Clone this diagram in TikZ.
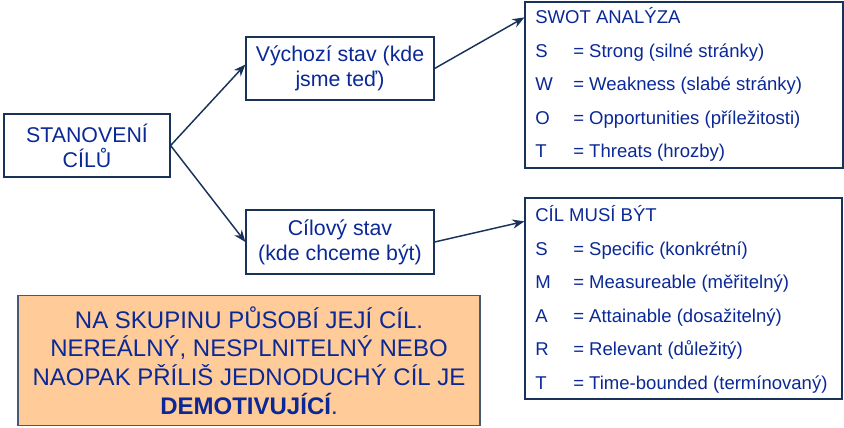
\documentclass[tikz,border=0pt]{standalone}
\usepackage{fontspec}
\setmainfont{Liberation Sans}
\usetikzlibrary{arrows.meta, positioning}
\definecolor{txtblue}{RGB}{10,40,150}
\definecolor{linenavy}{RGB}{25,50,90}
\definecolor{peach}{RGB}{255,204,153}
\definecolor{peachline}{RGB}{70,90,120}

\begin{document}
\begin{tikzpicture}[x=0.75pt, y=-0.75pt, >={Stealth[length=9pt, width=7pt]},
    box/.style={draw=linenavy, line width=0.9pt, align=center, text=txtblue, inner sep=0pt,
      font=\fontsize{16}{18.75}\selectfont},
    listbox/.style={draw=linenavy, line width=0.9pt, inner sep=0pt},
    item/.style={anchor=base west, text=txtblue, inner sep=0pt, font=\fontsize{13.9}{16}\selectfont},
    link/.style={->, draw=linenavy, line width=1.1pt}]
      \useasboundingbox (0,0) rectangle (844,428);
      \node[box, minimum width=124.5pt, minimum height=47.25pt] (goal) at (87,145.5) {STANOVENÍ\\CÍLŮ};
      \node[box, minimum width=141pt, minimum height=47.25pt] (now) at (340,68.5) {Výchozí stav (kde\\jsme teď)};
      \node[box, minimum width=141pt, minimum height=48pt] (target) at (340,242) {Cílový stav\\(kde chceme být)};
      \node[listbox, minimum width=238.5pt, minimum height=124.5pt] (swot) at (684,85) {};
      \node[listbox, minimum width=237.75pt, minimum height=150.75pt] (smart) at (683.5,298.5) {};
      \node[box, fill=peach, draw=peachline, minimum width=346.5pt, minimum height=97.5pt,
        font=\fontsize{18}{21.6}\selectfont] (note) at (249,360.5)
        {NA SKUPINU PŮSOBÍ JEJÍ CÍL.\\NEREÁLNÝ, NESPLNITELNÝ NEBO\\NAOPAK PŘÍLIŠ JEDNODUCHÝ CÍL JE\\\textbf{DEMOTIVUJÍCÍ}.};

      % SWOT
      \node[item] (swothead) at (535,24) {SWOT ANALÝZA};
      \foreach \ltr/\txt [count=\i] in {S/Strong (silné stránky), W/Weakness (slabé stránky),
          O/Opportunities (příležitosti), T/Threats (hrozby)} {
        \node[item] (swotl\i) at (535,{24+33.5*\i}) {\ltr};
        \node[item] (swott\i) at (573,{24+33.5*\i}) {= \txt};
      }

      % SMART
      \node[item] (smarthead) at (535,222) {CÍL MUSÍ BÝT};
      \foreach \ltr/\txt [count=\i] in {S/Specific (konkrétní), M/Measureable (měřitelný),
          A/Attainable (dosažitelný), R/Relevant (důležitý), T/Time-bounded (termínovaný)} {
        \node[item] (smartl\i) at (535,{222+33.4*\i}) {\ltr};
        \node[item] (smartt\i) at (573,{222+33.4*\i}) {= \txt};
      }

      \draw[link] (goal.east) -- ([yshift=3pt]now.west);
      \draw[link] (goal.east) -- (target.west);
      \draw[link] (now.east) -- ([yshift=-12pt]swot.north west);
      \draw[link] (target.east) -- ([yshift=-18pt]smart.north west);
    \end{tikzpicture}
\end{document}
